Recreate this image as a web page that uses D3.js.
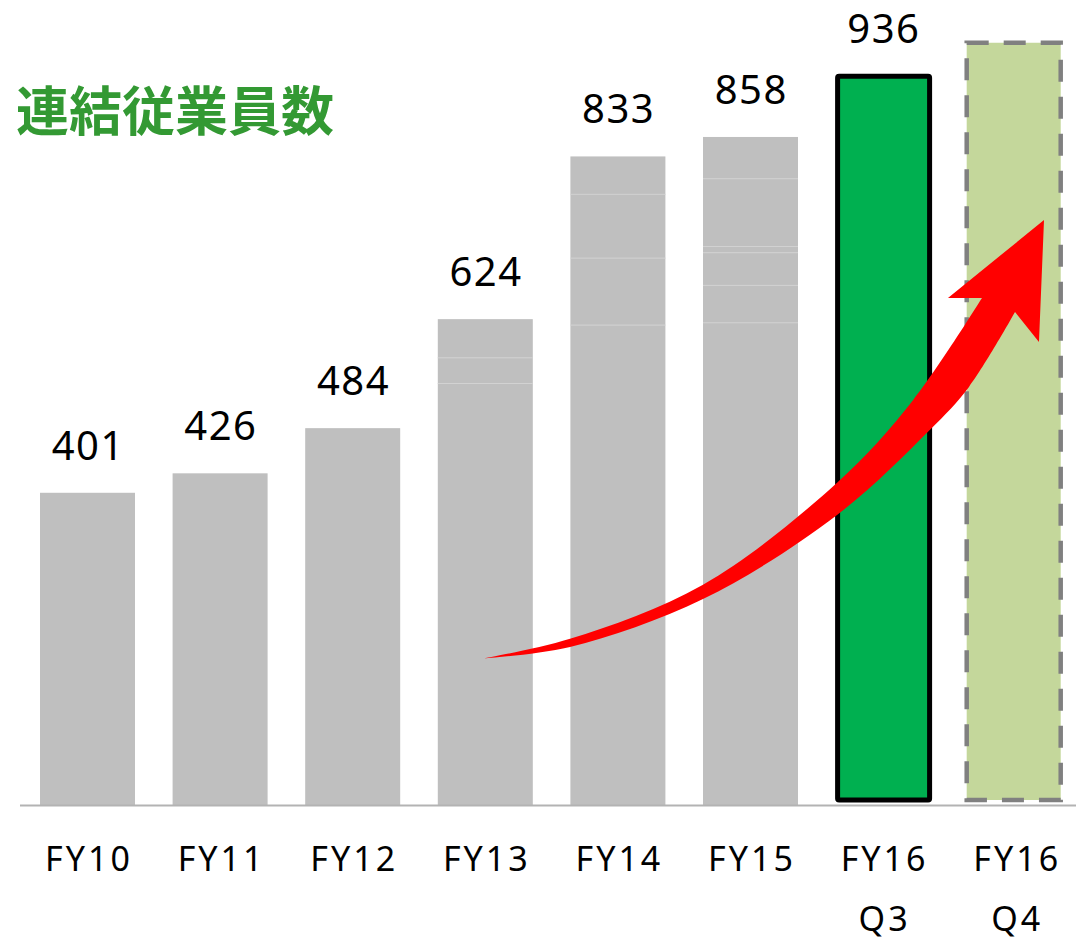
<!DOCTYPE html>
<html>
<head>
<meta charset="utf-8">
<script src="https://d3js.org/d3.v7.min.js"></script>
<style>
  html, body { margin: 0; padding: 0; background: #fff; }
  svg { display: block; }
</style>
</head>
<body>
<svg id="chart" width="1076" height="940"></svg>
<script>
// ---- data ----
const title = "連結従業員数";
const categories = ["FY10", "FY11", "FY12", "FY13", "FY14", "FY15", "FY16\nQ3", "FY16\nQ4"];
const values = [401, 426, 484, 624, 833, 858, 936, 979];
const valueLabels = ["401", "426", "484", "624", "833", "858", "936", null];
const barKinds = ["past", "past", "past", "past", "past", "past", "current", "forecast"];
// faint segment boundaries inside stacked gray bars
const segmentBreaks = [[], [], [], [542, 575], [617, 703, 785], [620, 668, 710, 718, 805], [], []];
// growth arrow anchors: [category index, fraction of band, value]
const arrowUpper = [[3, 0.486, 188.4], [4, -0.004, 213.5], [5, 0, 283], [6, 0.015, 414], [6, 0.815, 520], [7, 0.145, 651.2]];
const arrowHead = [[6, 1.183, 651.2], [7, 0.798, 751.3], [7, 0.745, 594.7], [7, 0.493, 633.2]];
const arrowLower = [[7, 0.493, 633.2], [7, 0.008, 537], [6, 0.994, 482], [6, 0.015, 372.5], [5, 0, 264.6], [4, -0.004, 203], [3, 0.486, 188.4]];

// ---- scales ----
const svg = d3.select("#chart");
const baseY = 805;
const x = d3.scaleBand().domain(categories).range([40, 1063.2]).paddingInner(0.2836).paddingOuter(0);
const y = d3.scaleLinear().domain([0, 1000]).range([baseY, baseY - 778.6]);
const bw = x.bandwidth();
const px = (p) => x(categories[p[0]]) + p[1] * bw;
const py = (p) => y(p[2]);

// ---- title ----
svg.append("text")
  .attr("x", 16).attr("y", 108)
  .attr("dominant-baseline", "central")
  .attr("font-family", "'Noto Sans CJK JP', sans-serif")
  .attr("font-weight", 700)
  .attr("font-size", 53)
  .attr("fill", "#339933")
  .text(title);

// ---- bars ----
const data = categories.map((c, i) => ({ c, v: values[i], kind: barKinds[i], label: valueLabels[i], breaks: segmentBreaks[i] }));

const past = data.filter(d => d.kind === "past");
svg.selectAll("rect.past").data(past).join("rect")
  .attr("class", "past")
  .attr("x", d => x(d.c)).attr("width", bw)
  .attr("y", d => y(d.v)).attr("height", d => y(0) - y(d.v))
  .attr("fill", "#bfbfbf");

past.forEach(d => {
  svg.selectAll(null).data(d.breaks).join("line")
    .attr("x1", x(d.c)).attr("x2", x(d.c) + bw)
    .attr("y1", v => y(v) + 0.5).attr("y2", v => y(v) + 0.5)
    .attr("stroke", "#d3d3d3").attr("stroke-width", 1);
});

const cur = data.filter(d => d.kind === "current");
svg.selectAll("rect.cur").data(cur).join("rect")
  .attr("class", "cur")
  .attr("x", d => x(d.c) + 2).attr("width", bw - 3)
  .attr("y", d => y(d.v)).attr("height", d => y(0) - 5 - y(d.v))
  .attr("fill", "#00b050")
  .attr("stroke", "#000").attr("stroke-width", 5)
  .attr("rx", 1.5);

const fc = data.filter(d => d.kind === "forecast");
svg.selectAll("rect.fc").data(fc).join("rect")
  .attr("class", "fc")
  .attr("x", d => x(d.c) - 1.5).attr("width", bw - 1)
  .attr("y", d => y(d.v)).attr("height", d => y(0) - 5 - y(d.v))
  .attr("fill", "#c4d79b")
  .attr("stroke", "#808080").attr("stroke-width", 4.5)
  .attr("stroke-dasharray", "22,15");

// ---- baseline ----
svg.append("line")
  .attr("x1", 20).attr("x2", 1076)
  .attr("y1", baseY + 0.5).attr("y2", baseY + 0.5)
  .attr("stroke", "#b3b3b3").attr("stroke-width", 2);

// ---- value labels ----
svg.selectAll("text.val").data(data.filter(d => d.label)).join("text")
  .attr("class", "val")
  .attr("x", d => x(d.c) + bw / 2 + 0.75)
  .attr("y", d => y(d.v) - 33)
  .attr("text-anchor", "middle")
  .attr("font-family", "'Noto Sans', sans-serif")
  .attr("font-size", 40)
  .attr("letter-spacing", "1.5px")
  .attr("fill", "#000")
  .text(d => d.label);

// ---- x axis ----
const axis = svg.append("g")
  .attr("transform", `translate(0,${baseY})`)
  .call(d3.axisBottom(x).tickSize(0).tickFormat(""));
axis.select(".domain").remove();
axis.selectAll(".tick").each(function(c) {
  const t = d3.select(this).append("text")
    .attr("text-anchor", "middle")
    .attr("font-family", "'Noto Sans', sans-serif")
    .attr("font-size", 34)
    .attr("letter-spacing", "3px")
    .attr("fill", "#000");
  c.split("\n").forEach((line, i) => {
    t.append("tspan").attr("x", 1.5).attr("y", 66 + i * 60).text(line);
  });
});

// ---- growth arrow ----
const line = d3.line().x(px).y(py).curve(d3.curveCatmullRom.alpha(0.5));
const upperPath = line(arrowUpper);
const lowerPath = line(arrowLower).replace(/^M/, "L");
const headPath = arrowHead.map(p => `L${px(p)},${py(p)}`).join("");
svg.append("path")
  .attr("d", upperPath + headPath + lowerPath + "Z")
  .attr("fill", "#ff0000");
</script>
</body>
</html>
